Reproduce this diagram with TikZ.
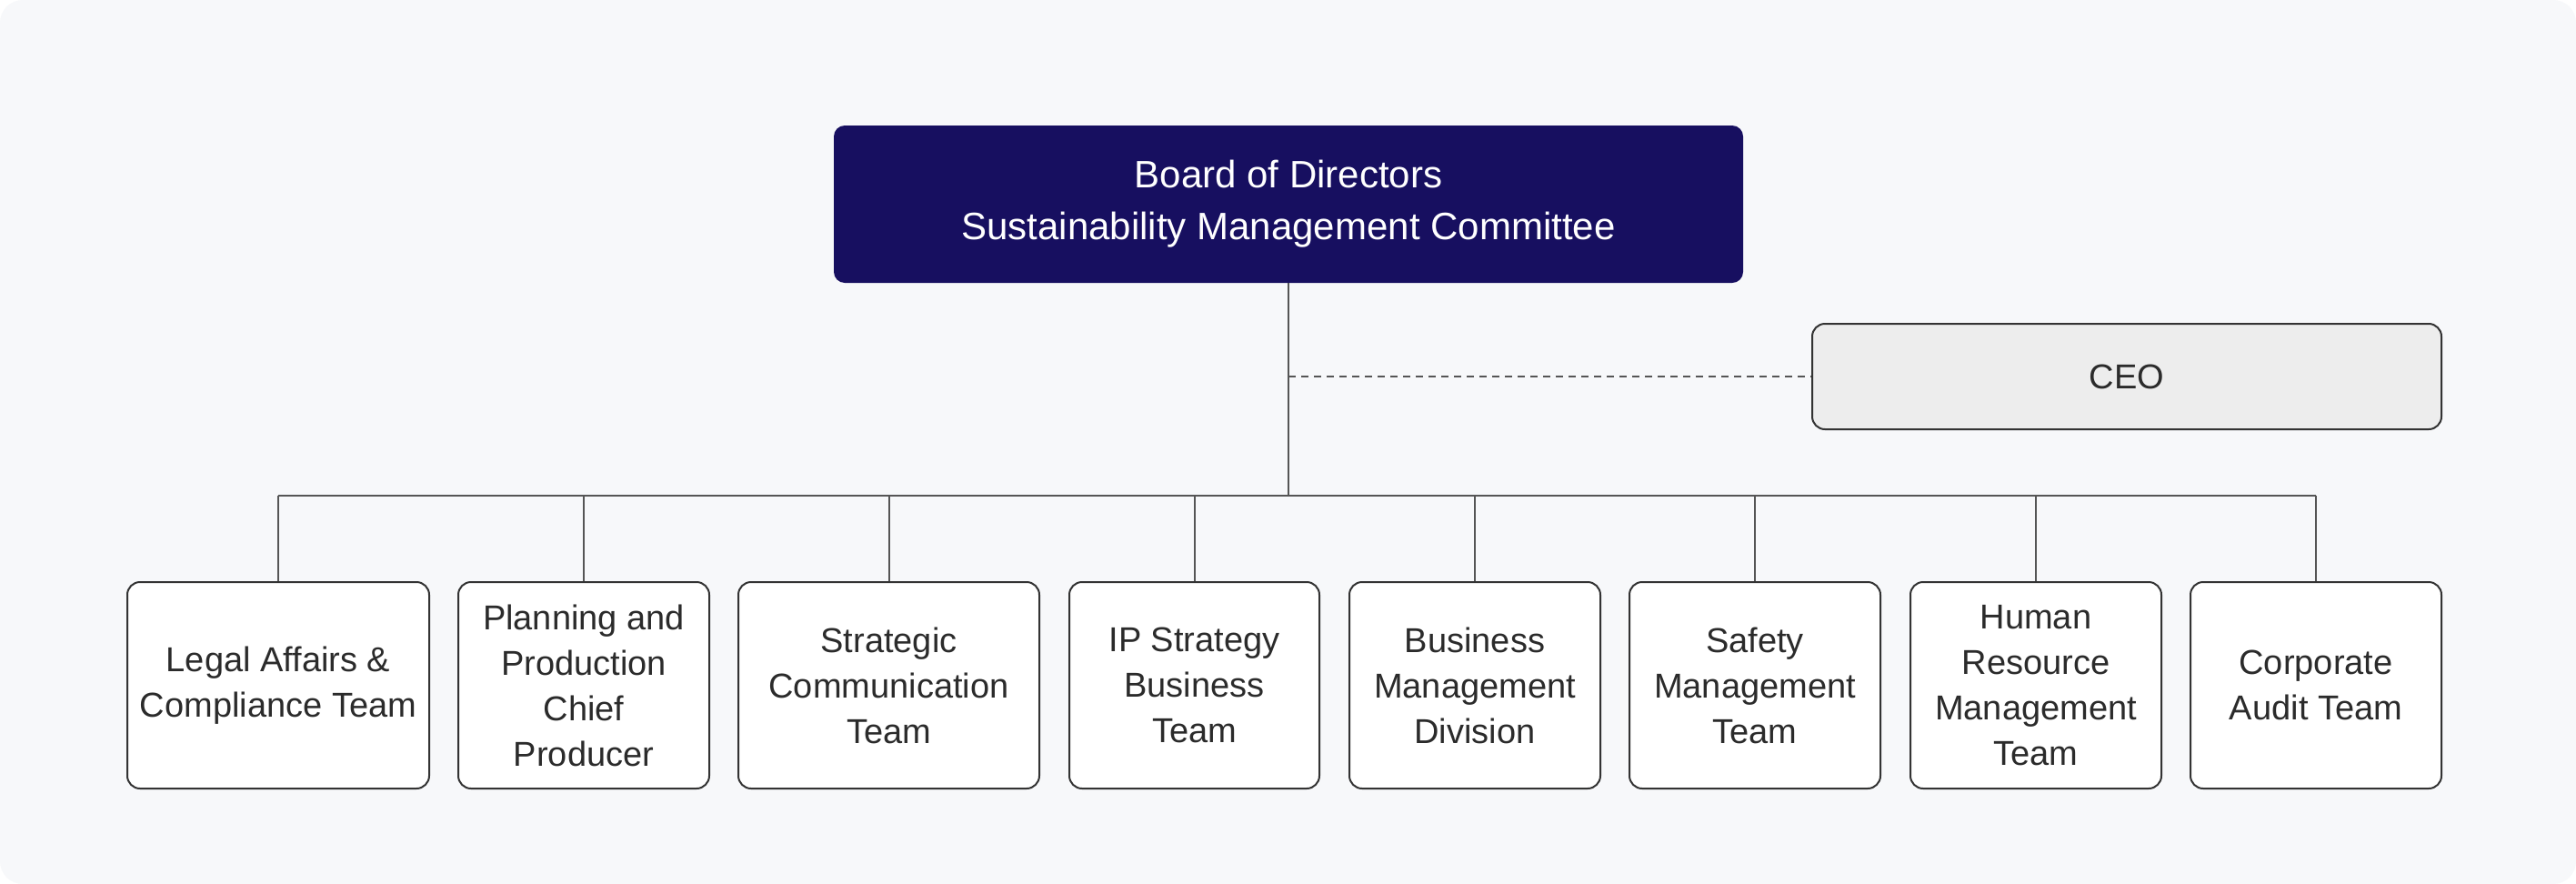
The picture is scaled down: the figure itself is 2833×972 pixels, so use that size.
\documentclass[tikz,border=0pt]{standalone}
\usepackage{fontspec}
\setmainfont{Liberation Sans}
\definecolor{bgc}{HTML}{F7F8FA}
\definecolor{navy}{HTML}{170F60}
\definecolor{ceofill}{HTML}{EDEDED}
\definecolor{edge}{HTML}{333333}
\definecolor{wire}{HTML}{555555}
\definecolor{txt}{HTML}{2B2B2B}
\tikzset{
  topbox/.style={rectangle, rounded corners=12pt, fill=navy, text=white, align=center, inner sep=0pt,
    minimum width=1000pt, minimum height=173pt, font=\fontsize{42}{57}\selectfont},
  ceobox/.style={rectangle, rounded corners=14pt, fill=ceofill, draw=edge, line width=2pt, text=txt,
    inner sep=0pt, minimum width=692pt, minimum height=116pt, font=\fontsize{38}{50}\selectfont},
  teambox/.style={rectangle, rounded corners=14pt, fill=white, draw=edge, line width=2pt, text=txt,
    align=center, inner sep=0pt, minimum height=227pt, font=\fontsize{38}{50}\selectfont},
  wireline/.style={draw=wire, line width=2pt},
  dashline/.style={draw=wire, line width=2pt, dash pattern=on 8pt off 6pt},
}
\begin{document}
\begin{tikzpicture}[x=1pt,y=-1pt]
\useasboundingbox (0,0) rectangle (2833,972);
\fill[white] (0,0) rectangle (2833,972);
\fill[bgc, rounded corners=25pt] (0,0) rectangle (2833,972);

\node[topbox] (top) at (1417,224.5) {Board of Directors\\Sustainability Management Committee};
\node[ceobox] (ceo) at (2339,414) {CEO};

\node[teambox, minimum width=332pt] (b1) at (306,753.5) {Legal Affairs \&\\Compliance Team};
\node[teambox, minimum width=276pt] (b2) at (642,753.5) {Planning and\\Production\\Chief\\Producer};
\node[teambox, minimum width=331pt] (b3) at (977.5,753.5) {Strategic\\Communication\\Team};
\node[teambox, minimum width=275pt] (b4) at (1313.5,753.5) {IP Strategy\\Business\\Team};
\node[teambox, minimum width=276pt] (b5) at (1622,753.5) {Business\\Management\\Division};
\node[teambox, minimum width=276pt] (b6) at (1930,753.5) {Safety\\Management\\Team};
\node[teambox, minimum width=276pt] (b7) at (2239,753.5) {Human\\Resource\\Management\\Team};
\node[teambox, minimum width=276pt] (b8) at (2547,753.5) {Corporate\\Audit Team};

\coordinate (bus) at (1417,545);
\draw[wireline] (top.south) -- (top.south |- bus);
\draw[wireline] (b1.north |- bus) -- (b8.north |- bus);
\foreach \b in {b1,b2,b3,b4,b5,b6,b7,b8} {
  \draw[wireline] (\b.north) -- (\b.north |- bus);
}
\draw[dashline] (top.south |- ceo.west) -- (ceo.west);
\end{tikzpicture}
\end{document}
